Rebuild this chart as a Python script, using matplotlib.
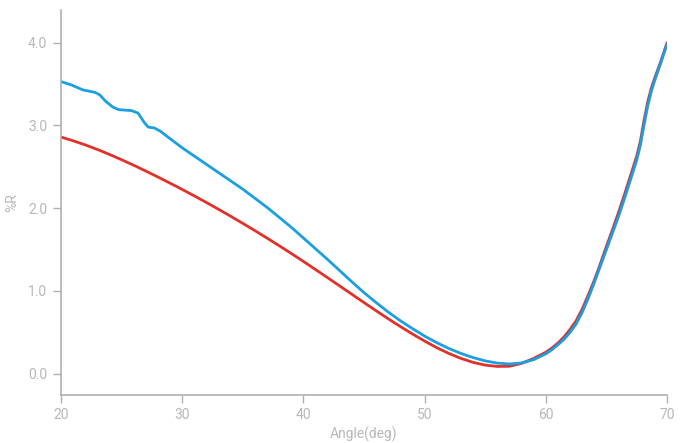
import numpy as np
import matplotlib
matplotlib.use('Agg')
import matplotlib.pyplot as plt

plt.rcParams['font.family'] = ['Roboto', 'DejaVu Sans']

# %R vs angle
blue_angle = [20, 20.85, 21.8, 22.8, 23.2, 23.7, 24.3, 24.8, 25.8, 26.35, 26.9, 27.2, 27.7,
              28.2, 29, 30, 31, 32, 33, 34, 35, 36, 37, 38, 39, 40, 41, 42, 43, 44, 45,
              46, 47, 48, 49, 50, 51, 52, 53, 54, 55, 56, 57, 58, 59, 60, 60.5, 61, 61.5,
              62, 62.5, 63, 63.5, 64, 64.5, 65, 65.5, 66, 66.5, 67, 67.5, 67.8, 68.1,
              68.4, 68.7, 69.0, 69.5, 70]
blue_r = [3.53, 3.49, 3.43, 3.40, 3.37, 3.29, 3.22, 3.19, 3.18, 3.15, 3.03, 2.98, 2.97,
          2.93, 2.84, 2.73, 2.63, 2.53, 2.43, 2.33, 2.23, 2.12, 2.01, 1.89, 1.77, 1.64,
          1.51, 1.38, 1.245, 1.11, 0.98, 0.86, 0.745, 0.64, 0.545, 0.455, 0.375, 0.305,
          0.245, 0.195, 0.155, 0.128, 0.118, 0.13, 0.17, 0.24, 0.29, 0.35, 0.415,
          0.50, 0.60, 0.74, 0.91, 1.10, 1.30, 1.50, 1.70, 1.90, 2.12, 2.35, 2.58, 2.76,
          3.00, 3.23, 3.41, 3.55, 3.76, 3.98]

red_angle = [20, 21, 22, 23, 24, 25, 26, 27, 28, 29, 30, 31, 32, 33, 34, 35, 36, 37, 38,
             39, 40, 41, 42, 43, 44, 45, 46, 47, 48, 49, 50, 51, 52, 53, 54, 55, 56, 57,
             58, 59, 60, 60.5, 61, 61.5, 62, 62.5, 63, 63.5, 64, 64.5, 65, 65.5, 66,
             66.5, 67, 67.5, 67.8, 68.1, 68.4, 68.7, 69.0, 69.5, 70]
red_r = [2.860, 2.815, 2.765, 2.710, 2.650, 2.586, 2.519, 2.449, 2.377, 2.303, 2.227,
         2.149, 2.069, 1.987, 1.903, 1.817, 1.729, 1.639, 1.547, 1.453, 1.357, 1.259,
         1.160, 1.060, 0.960, 0.860, 0.761, 0.664, 0.570, 0.480, 0.395, 0.315, 0.245,
         0.185, 0.137, 0.104, 0.088, 0.090, 0.125, 0.185, 0.26, 0.31, 0.37, 0.445,
         0.535, 0.64, 0.78, 0.95, 1.13, 1.33, 1.54, 1.74, 1.95, 2.17, 2.40, 2.63, 2.81,
         3.06, 3.28, 3.45, 3.58, 3.78, 4.00]

xticks = [20, 30, 40, 50, 60, 70]
yticks = [0.0, 1.0, 2.0, 3.0, 4.0]

grey = '#b8b8b8'

fig = plt.figure(figsize=(6.84, 4.43), dpi=100)
ax = fig.add_axes([0.0892, 0.1084, 0.8860, 0.8690])

ax.plot(red_angle, red_r, color='#e2302a', lw=2.0, solid_capstyle='round',
        solid_joinstyle='round')
ax.plot(blue_angle, blue_r, color='#1a9fe0', lw=2.0, solid_capstyle='round',
        solid_joinstyle='round')

ax.set_xlim(20, 70)
ax.set_ylim(-0.257, 4.395)
ax.set_xticks(xticks)
ax.set_xticklabels([str(t) for t in xticks])
ax.set_yticks(yticks)
ax.set_yticklabels([f'{t:.1f}' for t in yticks])

for side in ('top', 'right'):
    ax.spines[side].set_visible(False)
for side in ('left', 'bottom'):
    ax.spines[side].set_color('#b0b0b0')
    ax.spines[side].set_linewidth(1.2)

ax.tick_params(axis='both', colors='#b0b0b0', labelcolor=grey, labelsize=10,
               length=6, width=1)
ax.tick_params(axis='y', pad=4)

ax.set_xlabel('Angle(deg)', color=grey, fontsize=10, labelpad=3)
ax.set_ylabel('%R', color=grey, fontsize=10, labelpad=6)

fig.savefig('out.png', dpi=100)
